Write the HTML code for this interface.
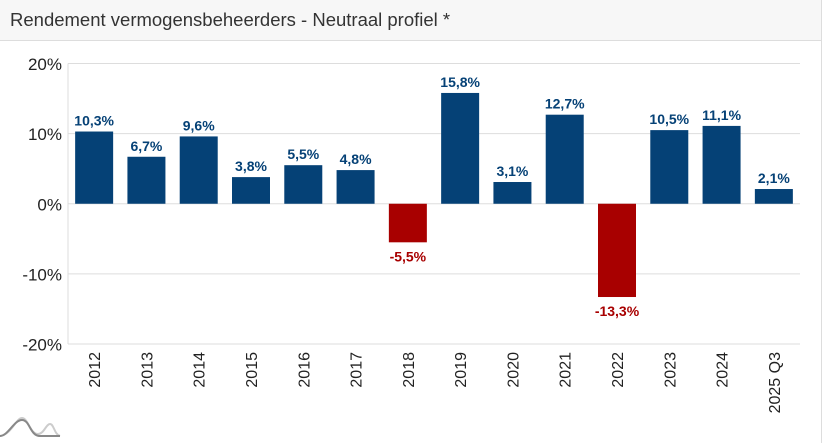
<!DOCTYPE html>
<html><head><meta charset="utf-8"><style>
body{margin:0;width:828px;height:443px;background:#fff;overflow:hidden;font-family:"Liberation Sans",sans-serif}
#title{position:absolute;left:0;top:0;width:822px;height:41px;background:#f7f7f7;border-bottom:1px solid #ddd;border-right:1px solid #ddd;font-size:18.5px;color:#333;line-height:40px;padding-left:10px;box-sizing:border-box}
#frame{position:absolute;left:821px;top:0;width:1px;height:443px;background:#ddd}
svg{position:absolute;left:0;top:0}
</style></head><body>
<div id="title">Rendement vermogensbeheerders - Neutraal profiel *</div>
<div id="frame"></div>
<svg id="c" width="828" height="443"></svg>
<script>
const categories=["2012","2013","2014","2015","2016","2017","2018","2019","2020","2021","2022","2023","2024","2025 Q3"];
const values=[10.3,6.7,9.6,3.8,5.5,4.8,-5.5,15.8,3.1,12.7,-13.3,10.5,11.1,2.1];
const ticks=[20,10,0,-10,-20];
const NS="http://www.w3.org/2000/svg";
const svg=document.getElementById('c');
const x0=68,x1=800,yTop=63.5,yBot=344;
function y(v){return yTop+(20-v)/40*(yBot-yTop);}
const band=(x1-x0)/categories.length;
function mk(t,a,txt){const e=document.createElementNS(NS,t);for(const k in a)e.setAttribute(k,a[k]);if(txt!=null)e.textContent=txt;svg.appendChild(e);return e;}
ticks.forEach(t=>{
 const g=mk('line',{x1:x0,x2:x1,y1:y(t),y2:y(t),stroke:'#ddd','stroke-width':1});
 
 
 const l=mk('text',{x:x0-6,y:y(t)+6.5,'text-anchor':'end','font-size':17,fill:'#222'},t+'%');
 
 
});
const ax=mk('line',{x1:x0,x2:x0,y1:yTop,y2:yBot,stroke:'#ddd'});


categories.forEach((c,i)=>{
 const v=values[i],cx=x0+band*(i+0.5),w=38;
 const col=v<0?'#a80000':'#054176';
 const r=mk('rect',{x:cx-w/2,y:Math.min(y(v),y(0)),width:w,height:Math.abs(y(v)-y(0)),fill:col});
 
 
 const ly=v<0?y(v)+19:y(v)-6;
 const t=mk('text',{x:cx,y:ly,'text-anchor':'middle','font-size':14,'font-weight':'bold',fill:col},v.toFixed(1).replace('.',',')+'%');
 
 
 const xl=mk('text',{transform:`translate(${cx+6},352) rotate(-90)`,'text-anchor':'end','font-size':16,fill:'#222'},c);
 
 
});
const logo=mk('g',{});


logo.innerHTML='<path d="M0,436 C12,434 16,418 22,418 C28,418 30,434 38,434 C44,434 46,424 50,424 C54,424 54,434 60,436" fill="none" stroke="#ccc" stroke-width="2"/><path d="M0,436 C8,436 14,420 22,420 C30,420 30,436 40,436 L60,436" fill="none" stroke="#888" stroke-width="2"/>';
</script>
</body></html>
